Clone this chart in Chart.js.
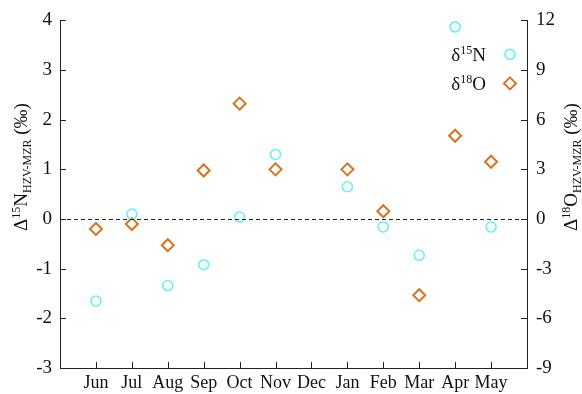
<!DOCTYPE html>
<html>
<head>
<meta charset="utf-8">
<script src="https://cdn.jsdelivr.net/npm/chart.js"></script>
<style>
  html, body { margin: 0; padding: 0; background: #fff; }
  #wrap { width: 582px; height: 394px; }
</style>
</head>
<body>
<div id="wrap"><canvas id="iso"></canvas></div>
<script>
// month categories and the two isotope offsets (‰)
const months = ['Jun', 'Jul', 'Aug', 'Sep', 'Oct', 'Nov', 'Dec', 'Jan', 'Feb', 'Mar', 'Apr', 'May'];
const dN15 = [-1.65, 0.1, -1.34, -0.92, 0.04, 1.3, null, 0.65, -0.16, -0.73, 3.87, -0.16];
const dO18 = [-0.6, -0.3, -1.58, 2.93, 6.97, 3.0, null, 3.0, 0.47, -4.6, 5.03, 3.46];
const leftTicks = [-3, -2, -1, 0, 1, 2, 3, 4];
const rightTicks = [-9, -6, -3, 0, 3, 6, 9, 12];

const SERIF = '"Liberation Serif", "DejaVu Serif", serif';
const CYAN = '#66f2f2';
const ORANGE = '#d8721f';

const toPoints = arr => arr.map((v, i) => ({ x: i, y: v }));

// draws text pieces: [text, 'n'|'sup'|'sub']
function drawRich(ctx, parts, x, y, big, small) {
  let cx = x;
  parts.forEach(([t, kind]) => {
    const sz = kind === 'n' ? big : small;
    ctx.font = sz + 'px ' + SERIF;
    let dy = 0;
    if (kind === 'sup') dy = -big * 0.38;
    if (kind === 'sub') dy = big * 0.22;
    ctx.fillText(t, cx, y + dy);
    cx += ctx.measureText(t).width;
  });
  return cx - x;
}
function richWidth(ctx, parts, big, small) {
  let w = 0;
  parts.forEach(([t, kind]) => {
    ctx.font = (kind === 'n' ? big : small) + 'px ' + SERIF;
    w += ctx.measureText(t).width;
  });
  return w;
}

const leftTitle = [['Δ', 'n'], ['15', 'sup'], ['N', 'n'], ['HZV-MZR', 'sub'], [' (‰)', 'n']];
const rightTitle = [['Δ', 'n'], ['18', 'sup'], ['O', 'n'], ['HZV-MZR', 'sub'], [' (‰)', 'n']];
const legendItems = [
  { parts: [['δ', 'n'], ['15', 'sup'], ['N', 'n']], ds: 0 },
  { parts: [['δ', 'n'], ['18', 'sup'], ['O', 'n']], ds: 1 }
];

const decor = {
  id: 'decor',
  afterDraw(chart) {
    const { ctx, chartArea: a, scales } = chart;
    ctx.save();
    ctx.strokeStyle = '#222';
    ctx.lineWidth = 1;
    // inward tick marks
    ctx.beginPath();
    leftTicks.forEach(v => {
      const y = Math.round(scales.y.getPixelForValue(v)) + 0.5;
      ctx.moveTo(a.left, y); ctx.lineTo(a.left + 6, y);
    });
    rightTicks.forEach(v => {
      const y = Math.round(scales.y2.getPixelForValue(v)) + 0.5;
      ctx.moveTo(a.right, y); ctx.lineTo(a.right - 6, y);
    });
    months.forEach((m, i) => {
      const x = Math.round(scales.x.getPixelForValue(i)) + 0.5;
      ctx.moveTo(x, a.bottom); ctx.lineTo(x, a.bottom - 6);
    });
    ctx.stroke();

    // dashed zero line
    const y0 = Math.round(scales.y.getPixelForValue(0)) + 0.5;
    ctx.setLineDash([4, 3]);
    ctx.beginPath();
    ctx.moveTo(a.left, y0); ctx.lineTo(a.right, y0);
    ctx.stroke();
    ctx.setLineDash([]);

    // axis titles
    ctx.fillStyle = '#111';
    ctx.textBaseline = 'alphabetic';
    ctx.textAlign = 'left';
    const midY = 167;
    [[leftTitle, 27], [rightTitle, 577]].forEach(([parts, bx]) => {
      const w = richWidth(ctx, parts, 19, 12);
      ctx.save();
      ctx.translate(bx, midY);
      ctx.rotate(-Math.PI / 2);
      drawRich(ctx, parts, -w / 2, 0, 19, 12);
      ctx.restore();
    });

    // legend, markers right of the labels
    legendItems.forEach((it, k) => {
      const ds = chart.data.datasets[it.ds];
      const my = a.top + 34 + k * 29;
      const mx = a.right - 17;
      const w = richWidth(ctx, it.parts, 19, 12);
      ctx.fillStyle = '#111';
      drawRich(ctx, it.parts, mx - 24 - w, my + 7, 19, 12);
      ctx.strokeStyle = ds.borderColor;
      ctx.lineWidth = ds.borderWidth;
      ctx.beginPath();
      if (ds.pointStyle === 'circle') {
        ctx.arc(mx, my, ds.pointRadius, 0, Math.PI * 2);
      } else {
        const r = ds.pointRadius;
        ctx.moveTo(mx, my - r); ctx.lineTo(mx + r, my);
        ctx.lineTo(mx, my + r); ctx.lineTo(mx - r, my); ctx.closePath();
      }
      ctx.stroke();
    });
    ctx.restore();
  }
};

new Chart(document.getElementById('iso'), {
  type: 'scatter',
  data: {
    datasets: [
      {
        label: 'δ15N',
        data: toPoints(dN15),
        yAxisID: 'y',
        pointStyle: 'circle',
        pointRadius: 5,
        borderColor: CYAN,
        backgroundColor: 'rgba(0,0,0,0)',
        borderWidth: 1.6
      },
      {
        label: 'δ18O',
        data: toPoints(dO18),
        yAxisID: 'y2',
        pointStyle: 'rectRot',
        pointRadius: 6,
        borderColor: ORANGE,
        backgroundColor: 'rgba(0,0,0,0)',
        borderWidth: 2
      }
    ]
  },
  options: {
    responsive: true,
    maintainAspectRatio: false,
    animation: false,
    layout: { padding: { top: 18, left: 0, right: 0, bottom: 0 } },
    plugins: { legend: { display: false }, tooltip: { enabled: false } },
    scales: {
      x: {
        type: 'linear',
        min: -1, max: 12,
        grid: { display: false, drawTicks: false },
        border: { display: true, color: '#222', width: 1 },
        afterBuildTicks: s => { s.ticks = months.map((m, i) => ({ value: i })); },
        afterFit: s => { s.height = 26; },
        ticks: {
          autoSkip: false, maxRotation: 0, padding: 4,
          color: '#111', font: { family: SERIF, size: 18 },
          callback: v => months[v] ?? ''
        }
      },
      y: {
        position: 'left',
        min: -3, max: 4,
        grid: { display: false, drawTicks: false },
        border: { display: true, color: '#222', width: 1 },
        afterBuildTicks: s => { s.ticks = leftTicks.map(v => ({ value: v })); },
        afterFit: s => { s.width = 60; },
        ticks: { padding: 8, color: '#111', font: { family: SERIF, size: 19 } }
      },
      y2: {
        position: 'right',
        min: -9, max: 12,
        grid: { display: false, drawTicks: false },
        border: { display: true, color: '#222', width: 1 },
        afterBuildTicks: s => { s.ticks = rightTicks.map(v => ({ value: v })); },
        afterFit: s => { s.width = 55; },
        ticks: { padding: 9, color: '#111', font: { family: SERIF, size: 19 } }
      }
    }
  },
  plugins: [decor]
});
</script>
</body>
</html>
